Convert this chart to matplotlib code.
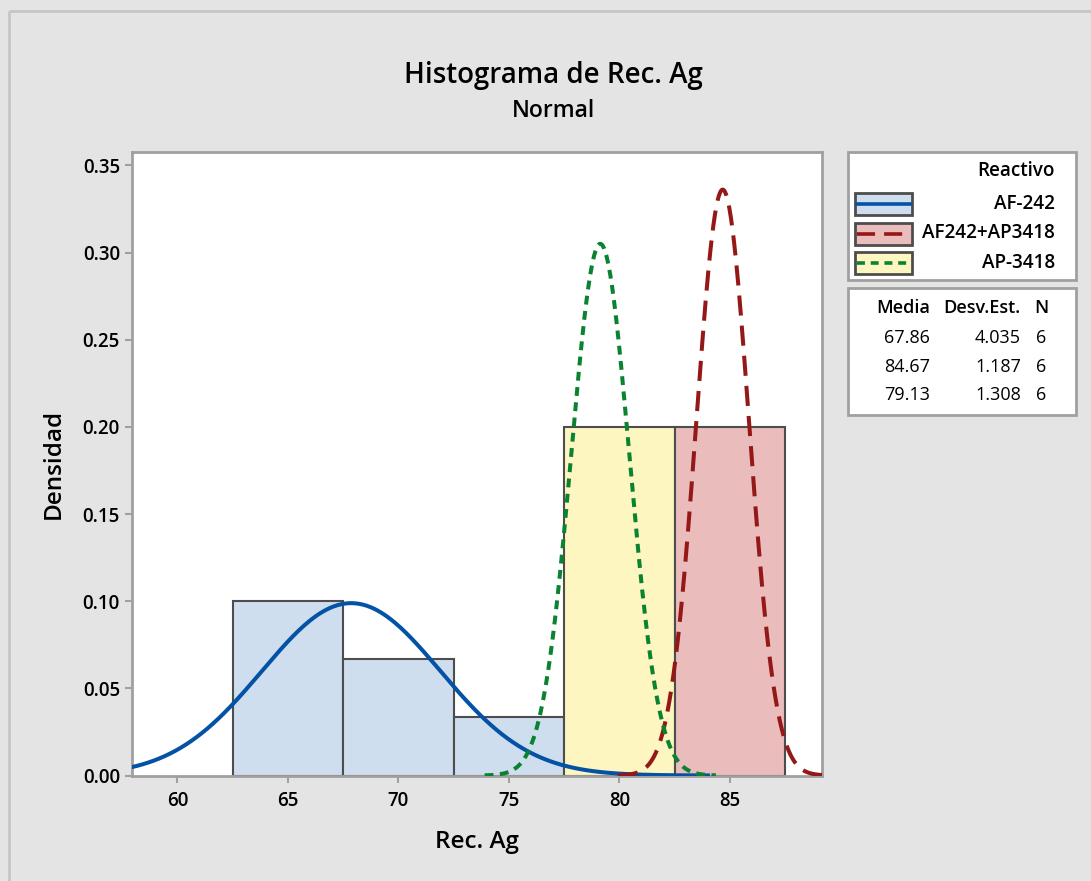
import numpy as np
import matplotlib.pyplot as plt
from matplotlib.patches import Rectangle

# Data
groups = ["AF-242", "AF242+AP3418", "AP-3418"]
bin_width = 5.0
af242_left = [62.5, 67.5, 72.5]
af242_density = [0.1, 0.0667, 0.0333]
mix_left = [82.5]
mix_density = [0.2]
ap3418_left = [77.5]
ap3418_density = [0.2]

means = [67.86, 84.67, 79.13]
stdevs = [4.035, 1.187, 1.308]
counts = [6, 6, 6]

# Styles
fills = ["#cfdeee", "#ebbcbc", "#fdf6c0"]
line_colors = ["#0352a6", "#951818", "#0a8330"]
line_styles = ["-", (0, (5, 2.5)), (0, (2.2, 1.6))]
bg = "#e4e4e4"
edge = "#4d4d4d"

plt.rcParams['font.family'] = ['Open Sans', 'DejaVu Sans']

W, H = 1091, 881
fig = plt.figure(figsize=(W / 100, H / 100), dpi=100, facecolor=bg)

# Outer frame of the picture
frame = fig.add_axes([0, 0, 1, 1])
frame.set_xlim(0, W)
frame.set_ylim(H, 0)
frame.axis('off')
frame.add_patch(Rectangle((9, 11), W + 20, H + 20, fill=False, ec="#c6c6c6", lw=2))

ax = fig.add_axes([131.7 / W, 1 - 775.5 / H, 690 / W, 623.2 / H])
ax.set_facecolor("white")

# Histogram bars
ax.bar(af242_left, af242_density, width=bin_width, align='edge',
       color=fills[0], edgecolor=edge, linewidth=1.5, zorder=2)
ax.bar(ap3418_left, ap3418_density, width=bin_width, align='edge',
       color=fills[2], edgecolor=edge, linewidth=1.5, zorder=2)
ax.bar(mix_left, mix_density, width=bin_width, align='edge',
       color=fills[1], edgecolor=edge, linewidth=1.5, zorder=2)

# Fitted normal curves
for m, s, c, ls in zip(means, stdevs, line_colors, line_styles):
    x = np.linspace(m - 4 * s, m + 4 * s, 400)
    y = np.exp(-0.5 * ((x - m) / s) ** 2) / (s * np.sqrt(2 * np.pi))
    ax.plot(x, y, color=c, lw=2.9, linestyle=ls, zorder=3)

ax.set_xlim(57.93, 89.15)
ax.set_ylim(0, 0.3575)
ax.set_xticks([60, 65, 70, 75, 80, 85])
ax.set_yticks(np.arange(0, 0.351, 0.05))
ax.set_yticklabels([f"{v:.2f}" for v in np.arange(0, 0.351, 0.05)])
for sp in ax.spines.values():
    sp.set_color("#a0a0a0")
    sp.set_linewidth(2)
ax.tick_params(colors="#a0a0a0", length=5, width=1.5, labelcolor="black",
               labelsize=13.5)
ax.tick_params(axis='x', pad=6)
for lbl in ax.get_xticklabels() + ax.get_yticklabels():
    lbl.set_fontweight('semibold')
ax.set_xlabel("Rec. Ag", fontsize=17.5, fontweight='semibold', labelpad=14)
ax.set_ylabel("Densidad", fontsize=17.5, fontweight='semibold', labelpad=12)

fig.text(553 / W, 1 - 76 / H, "Histograma de Rec. Ag", ha='center', va='center',
         fontsize=20, fontweight='semibold')
fig.text(553 / W, 1 - 111 / H, "Normal", ha='center', va='center',
         fontsize=16.5, fontweight='semibold')

# Legend box (drawn in pixel coordinates on the overlay)
frame.add_patch(Rectangle((848, 152), 228, 128, fc="white", ec="#a0a0a0", lw=2))
frame.text(1055, 171, "Reactivo", ha='right', va='center', fontsize=13.6,
           fontweight='semibold')
for i, (g, f, c, ls) in enumerate(zip(groups, fills, line_colors, line_styles)):
    yc = 204 + i * 29.5
    frame.add_patch(Rectangle((855, yc - 11), 57, 22, fc=f, ec=edge, lw=2))
    frame.plot([857, 910], [yc, yc], color=c, lw=2.6, linestyle=ls)
    frame.text(1055, yc, g, ha='right', va='center', fontsize=13.6,
               fontweight='semibold')

# Stats table
frame.add_patch(Rectangle((848, 288), 228, 127, fc="white", ec="#a0a0a0", lw=2))
frame.text(903, 308, "Media", ha='center', va='center', fontsize=13,
           fontweight='semibold')
frame.text(982, 308, "Desv.Est.", ha='center', va='center', fontsize=13,
           fontweight='semibold')
frame.text(1041, 308, "N", ha='center', va='center', fontsize=13,
           fontweight='semibold')
for i, (m, s, n) in enumerate(zip(means, stdevs, counts)):
    yr = 338 + i * 28.5
    frame.text(930, yr, f"{m:.2f}", ha='right', va='center', fontsize=13)
    frame.text(1021, yr, f"{s:.3f}", ha='right', va='center', fontsize=13)
    frame.text(1041, yr, f"{n}", ha='center', va='center', fontsize=13)

fig.savefig("out.png", dpi=100, facecolor=bg)
